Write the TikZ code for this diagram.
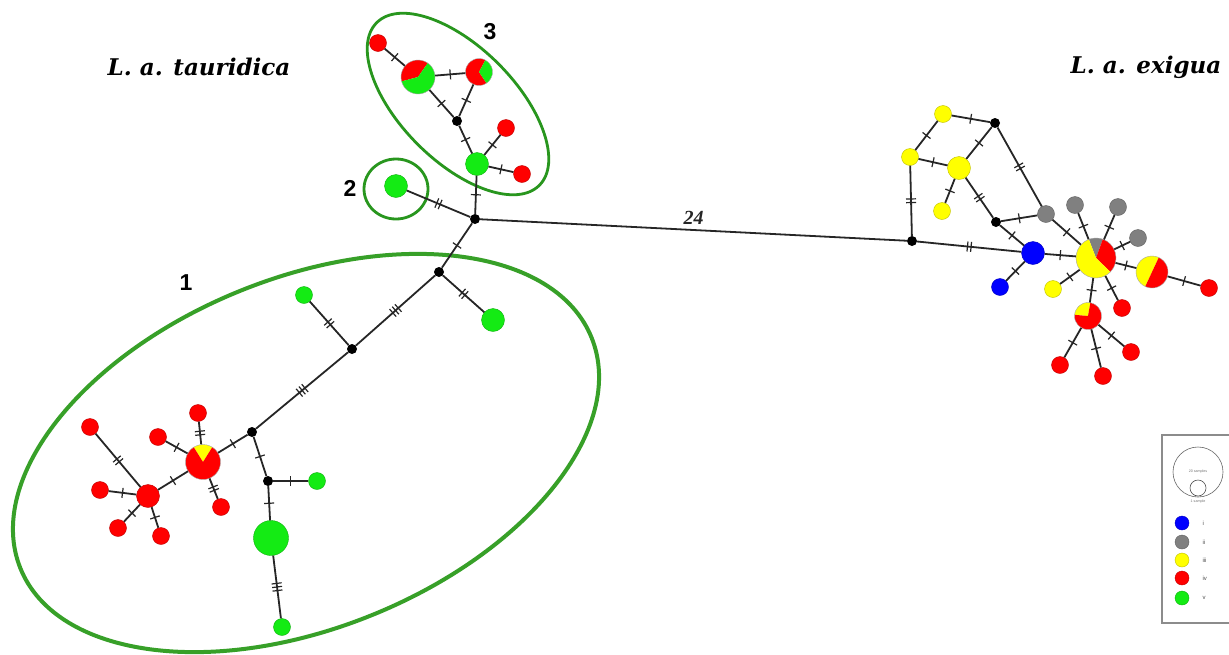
\documentclass[tikz,border=0pt]{standalone}
\usepackage{fontspec}
\setmainfont{Liberation Serif}
\setsansfont{Liberation Sans}
\newfontfamily\titlefont{DejaVu Serif}
\usetikzlibrary{decorations.markings}
\definecolor{hred}{RGB}{255,0,0}
\definecolor{hgreen}{RGB}{20,235,20}
\definecolor{hyellow}{RGB}{255,255,0}
\definecolor{hgrey}{RGB}{128,128,128}
\definecolor{hblue}{RGB}{0,0,255}
\definecolor{ringgreen}{RGB}{40,150,30}
\definecolor{ringone}{RGB}{55,160,40}
\tikzset{
  hap/.style={circle, inner sep=0pt, fill=#1, draw=#1!75!black, line width=0.4pt},
  s8/.style={minimum size=17pt},
  s11/.style={minimum size=23pt},
  medv/.style={circle, fill=black, inner sep=0pt, minimum size=10pt},
  edge/.style={line width=1.8pt, black!85},
  ticks/.style={postaction={decorate, decoration={markings,
     mark=at position 0.5 with {\foreach \k in {1,...,#1}{\draw[line width=1.2pt, black!85] ({(\k-(#1+1)/2)*3.6pt},-5pt) -- ++(0,10pt);}}}}},
  ring/.style={draw=ringgreen, line width=2.8pt},
  numlab/.style={font=\sffamily\bfseries\fontsize{23}{26}\selectfont},
  title/.style={font=\titlefont\bfseries\itshape\fontsize{23}{26}\selectfont},
}
\newcommand\pienode[4]{%
  \node[circle, minimum size={2*#3pt}, inner sep=0pt] (#1) at (#2) {};
  \foreach \a/\b/\c in {#4} {\fill[\c] (#1.center) -- ++(\a:#3pt) arc[start angle=\a, end angle=\b, radius=#3pt] -- cycle;}
  \draw[black!35, line width=0.4pt] (#1.center) circle[radius=#3pt];
}
\begin{document}
\begin{tikzpicture}[x=1pt, y=-1pt]
\useasboundingbox[fill=white] (0,0) rectangle (1229,654);

% rings
\draw[draw=ringone, line width=4pt, rotate around={22:(306,453)}] (306,453) ellipse[x radius=308pt, y radius=175pt];
\draw[ring] (396,189) ellipse[x radius=32pt, y radius=30pt];
\draw[ring, rotate around={-45:(458,104)}] (458,104) ellipse[x radius=115pt, y radius=57pt];

% titles and labels
\node[title] (t1) at (199,67) {L. a. tauridica};
\node[title] (t2) at (1146,67) {L. a. exigua};
\node[numlab] (l1) at (186,283) {1};
\node[numlab] (l2) at (350,188) {2};
\node[numlab] (l3) at (490,32) {3};

% ---- top cluster
\node[hap=hred, s8] (a1) at (378,43) {};
\pienode{a2}{418,77}{17}{55/195/hred, 195/415/hgreen}
\pienode{a3}{479,72}{13.5}{62/304/hred, -56/62/hgreen}
\node[medv] (a4) at (457,121) {};
\node[hap=hgreen, s11] (a5) at (477,164) {};
\node[hap=hred, s8] (a6) at (506,128) {};
\node[hap=hred, s8] (a7) at (522,174) {};
\node[hap=hgreen, s11] (b1) at (396,186) {};
\node[medv] (hub) at (475,219) {};

% ---- left cluster
\node[medv] (c1) at (439,272) {};
\node[hap=hgreen, s11] (c2) at (493,320) {};
\node[medv] (c3) at (352,349) {};
\node[hap=hgreen, s8] (c4) at (304,295) {};
\node[medv] (c5) at (252,432) {};
\pienode{c6}{203,462}{17.5}{58/122/hyellow, 122/418/hred}
\node[hap=hred, s8] (c7) at (198,413) {};
\node[hap=hred, s8] (c8) at (158,437) {};
\node[hap=hred, s8] (c9) at (221,507) {};
\node[hap=hred, s11] (c10) at (148,496) {};
\node[hap=hred, s8] (c11) at (90,427) {};
\node[hap=hred, s8] (c12) at (100,490) {};
\node[hap=hred, s8] (c13) at (118,528) {};
\node[hap=hred, s8] (c14) at (161,536) {};
\node[medv] (c15) at (268,481) {};
\node[hap=hgreen, s8] (c16) at (317,481) {};
\node[hap=hgreen, minimum size=35pt] (c17) at (271,538) {};
\node[hap=hgreen, s8] (c18) at (282,627) {};

% ---- right cluster
\node[hap=hyellow, s8] (d1) at (943,114) {};
\node[medv] (d2) at (995,123) {};
\node[hap=hyellow, s8] (d3) at (910,157) {};
\node[hap=hyellow, s11] (d4) at (959,168) {};
\node[hap=hyellow, s8] (d5) at (942,211) {};
\node[medv] (d6) at (996,222) {};
\node[hap=hgrey, s8] (d7) at (1046,214) {};
\node[medv] (d8) at (912,241) {};
\node[hap=hblue, s11] (d9) at (1033,253) {};
\node[hap=hblue, s8] (d10) at (1000,287) {};
\node[hap=hgrey, s8] (d11) at (1075,205) {};
\node[hap=hgrey, s8] (d12) at (1118,207) {};
\node[hap=hgrey, s8] (d13) at (1138,238) {};
\pienode{d14}{1096,258}{20}{70/111/hgrey, -44/70/hred, 111/316/hyellow}
\node[hap=hyellow, s8] (d15) at (1053,289) {};
\pienode{d16}{1152,272}{16}{65/245/hyellow, 245/425/hred}
\node[hap=hred, s8] (d17) at (1209,288) {};
\node[hap=hred, s8] (d18) at (1122,308) {};
\pienode{d19}{1088,316}{13.5}{80/175/hyellow, 175/440/hred}
\node[hap=hred, s8] (d20) at (1060,365) {};
\node[hap=hred, s8] (d21) at (1103,376) {};
\node[hap=hred, s8] (d22) at (1131,352) {};

% ---- edges
\foreach \u/\v/\n in {a1/a2/1, a2/a3/1, a2/a4/1, a3/a4/1, a4/a5/1, a5/a6/1, a5/a7/1, a5/hub/1, b1/hub/2,
  hub/c1/1, c1/c2/2, c1/c3/3, c3/c4/2, c3/c5/3, c5/c6/1, c5/c15/1, c15/c16/1, c15/c17/1, c17/c18/3,
  c6/c7/2, c6/c8/1, c6/c9/2, c6/c10/1, c10/c11/2, c10/c12/1, c10/c13/1, c10/c14/1,
  d1/d2/1, d1/d3/1, d3/d4/1, d4/d2/1, d4/d5/1, d4/d6/2, d2/d7/2, d3/d8/2, d8/d9/2, d6/d7/1, d6/d9/1,
  d9/d10/1, d9/d14/1, d7/d14/1, d11/d14/1, d12/d14/1, d13/d14/1, d14/d15/1, d14/d16/1, d16/d17/1,
  d14/d18/1, d14/d19/1, d19/d20/1, d19/d21/1, d19/d22/1}
  {\draw[edge, ticks=\n] (\u) -- (\v);}
\draw[edge] (hub) -- node[above=1pt, font=\bfseries\itshape\fontsize{20}{22}\selectfont] (lab24) {24} (d8);

% ---- legend
\draw[black!45, line width=1.3pt] (1162,435) rectangle (1240,623);
\node[circle, draw=black!60, line width=0.6pt, minimum size=50pt, inner sep=0pt] (g1) at (1198,472) {};
\node[circle, draw=black!70, fill=white, line width=0.6pt, minimum size=16pt, inner sep=0pt] (g2) at (1198,488) {};
\node[font=\sffamily\fontsize{3.6}{4}\selectfont, text=black!55] (g3) at (1198,472) {20 samples};
\node[font=\sffamily\fontsize{3.6}{4}\selectfont, text=black!55] (g4) at (1198,502) {1 sample};
\foreach \c/\yy/\t/\nm in {hblue/523/i/k1, hgrey/542/ii/k2, hyellow/560/iii/k3, hred/578/iv/k4, hgreen/598/v/k5} {
  \node[hap=\c, minimum size=14pt] (\nm) at (1182,\yy) {};
  \node[font=\sffamily\fontsize{6}{7}\selectfont, text=black!70, anchor=west] (\nm t) at (1199,\yy) {\t};
}
\end{tikzpicture}
\end{document}
